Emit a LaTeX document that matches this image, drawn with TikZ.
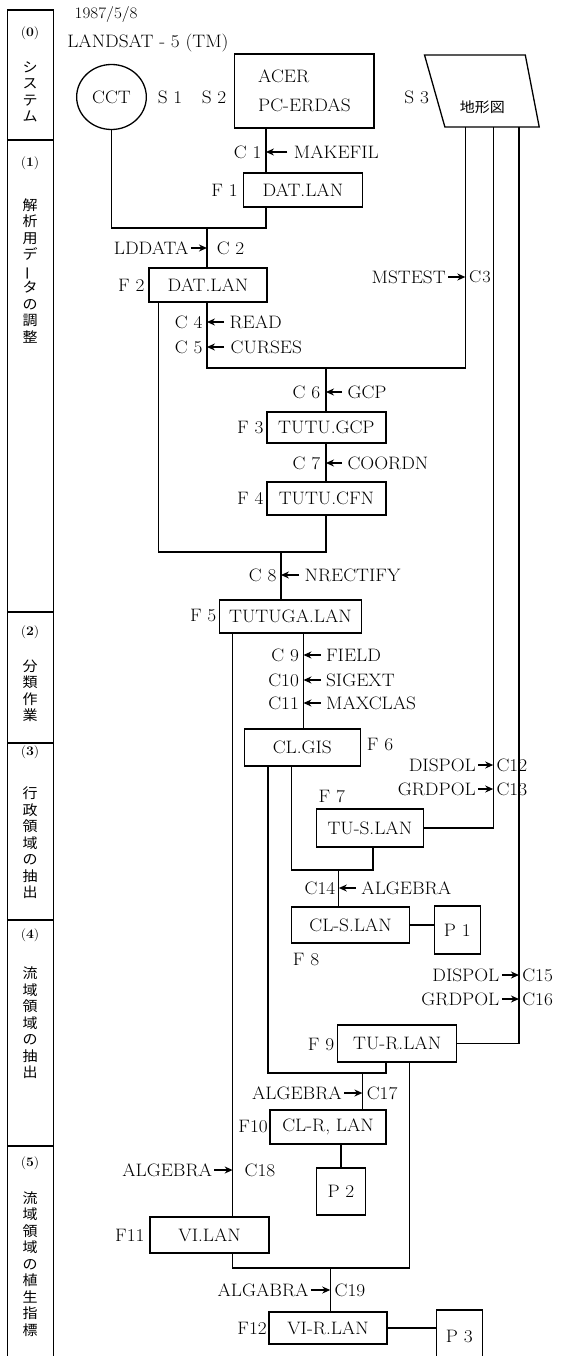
\documentclass[tikz,border=0pt]{standalone}
\usepackage{fontspec}
\newfontfamily\cjk{Noto Sans CJK JP}
\usetikzlibrary{arrows.meta}
\newcommand\mf{\fontsize{18}{21}\selectfont}
\newcommand\jf{\cjk\fontsize{14}{16.5}\selectfont}
\newcommand\vbar{\rotatebox[origin=c]{90}{ー}}
\tikzset{
  ln/.style={line width=1.3pt},
  box/.style={draw,line width=1.3pt,inner sep=0pt,font=\mf},
  lbl/.style={inner sep=0pt,font=\mf},
  arr/.style={line width=1.3pt,-{Stealth[length=8pt,width=7pt]}},
  vt/.style={inner sep=0pt,font=\jf,align=center},
  sec/.style={inner sep=0pt,font=\fontsize{13}{15}\selectfont},
}
\begin{document}
\begin{tikzpicture}[x=1pt,y=1pt,xscale=1.072,every node/.append style={transform shape}]
\useasboundingbox (0,0) rectangle (523.3,-1356);
% ---- left column ----
\draw[ln] (7,-1356) -- (7,-10) -- (50,-10) -- (50,-1356);
\foreach \y in {140,612,743,920,1146} \draw[ln] (7,-\y) -- (50,-\y);
\node[sec] (n0) at (28,-33) {(\textbf{0})};
\node[vt] (v0) at (28,-92) {シ\\ス\\テ\\ム};
\node[sec] (n1) at (28,-163) {(\textbf{1})};
\node[vt] (v1) at (28,-271) {解\\析\\用\\デ\\\vbar\\タ\\の\\調\\整};
\node[sec] (n2) at (28,-632) {(\textbf{2})};
\node[vt] (v2) at (28,-691) {分\\類\\作\\業};
\node[sec] (n3) at (28,-752) {(\textbf{3})};
\node[vt] (v3) at (28,-843) {行\\政\\領\\域\\の\\抽\\出};
\node[sec] (n4) at (28,-935) {(\textbf{4})};
\node[vt] (v4) at (28,-1023) {流\\域\\領\\域\\の\\抽\\出};
\node[sec] (n5) at (28,-1163) {(\textbf{5})};
\node[vt] (v5) at (28,-1264) {流\\域\\領\\域\\の\\植\\生\\指\\標};
% ---- lanes and levels ----
\coordinate (L148) at (148,0);
\coordinate (L193) at (193,0);
\coordinate (L217) at (217,0);
\coordinate (L248) at (248,0);
\coordinate (L250) at (250,0);
\coordinate (L262) at (262,0);
\coordinate (L272) at (272,0);
\coordinate (L283) at (283,0);
\coordinate (L304) at (304,0);
\coordinate (L308) at (308,0);
\coordinate (L316) at (316,0);
\coordinate (L338) at (338,0);
\coordinate (L348) at (348,0);
\coordinate (L360) at (360,0);
\coordinate (L382) at (382,0);
\coordinate (L434) at (434,0);
\coordinate (L460) at (460,0);
\coordinate (L484) at (484,0);
\coordinate (H228) at (0,-228);
\coordinate (H368) at (0,-368);
\coordinate (H552) at (0,-552);
\coordinate (H870) at (0,-870);
\coordinate (H1073) at (0,-1073);
\coordinate (H1268) at (0,-1268);
% ---- header ----
\node[lbl,font=\fontsize{16}{18}\selectfont] (date) at (99,-15) {1987/5/8};
\node[lbl] (sat) at (138,-43) {LANDSAT - 5 (TM)};
% ---- sources ----
\node[circle,draw,ln,minimum size=65pt,inner sep=0pt,font=\mf] (cct) at (104,-97) {CCT};
\node[lbl,anchor=west] (s1l) at (147,-97) {S 1};
\node[lbl,anchor=west] (s2l) at (188,-97) {S 2};
\node[box,minimum width=130pt,minimum height=74pt,align=left,font=\fontsize{18}{29}\selectfont] (s2) at (284,-91) {ACER\\PC-ERDAS};
\node[lbl,anchor=west] (s3l) at (377,-97) {S 3};
\draw[ln] (396,-55) -- (490,-55) -- (503,-127) -- (415,-127) -- cycle;
\node[lbl,font=\cjk\fontsize{14}{16}\selectfont] (s3) at (450,-107) {地形図};
\coordinate (s3a) at (434,-127);
\coordinate (s3b) at (460,-127);
\coordinate (s3c) at (484,-127);
% ---- files ----
\node[box,minimum width=111pt,minimum height=34pt] (f1) at (282.5,-190) {DAT.LAN};
\node[box,minimum width=110pt,minimum height=34pt] (f2) at (194,-285) {DAT.LAN};
\node[box,minimum width=111pt,minimum height=31pt] (f3) at (304.5,-427.5) {TUTU.GCP};
\node[box,minimum width=111pt,minimum height=33pt] (f4) at (304.5,-498.5) {TUTU.CFN};
\node[box,minimum width=132pt,minimum height=33pt] (f5) at (271,-616.5) {TUTUGA.LAN};
\node[box,minimum width=108pt,minimum height=37pt] (f6) at (282,-747.5) {CL.GIS};
\node[box,minimum width=100pt,minimum height=38pt] (f7) at (345,-828) {TU-S.LAN};
\node[box,minimum width=110pt,minimum height=36pt] (f8) at (327,-925) {CL-S.LAN};
\node[box,minimum width=43pt,minimum height=48pt] (p1) at (426.5,-930) {P 1};
\node[box,minimum width=111pt,minimum height=37pt] (f9) at (370.5,-1043.5) {TU-R.LAN};
\node[box,minimum width=108pt,minimum height=34pt] (f10) at (306,-1127) {CL-R, LAN};
\node[box,minimum width=46pt,minimum height=47pt] (p2) at (318,-1191.5) {P 2};
\node[box,minimum width=111pt,minimum height=36pt] (f11) at (195.5,-1235) {VI.LAN};
\node[box,minimum width=110pt,minimum height=32pt] (f12) at (306,-1328) {VI-R.LAN};
\node[box,minimum width=43pt,minimum height=60pt] (p3) at (428.5,-1340) {\raisebox{7pt}{P 3}};
% ---- file labels ----
\node[lbl,anchor=east] (fl1) at (222,-190) {F 1};
\node[lbl,anchor=east] (fl2) at (135,-285) {F 2};
\node[lbl,anchor=east] (fl3) at (246,-428) {F 3};
\node[lbl,anchor=east] (fl4) at (246,-498) {F 4};
\node[lbl,anchor=east] (fl5) at (202,-616) {F 5};
\node[lbl,anchor=west] (fl6) at (342,-745) {F 6};
\node[lbl,anchor=west] (fl7) at (297,-797) {F 7};
\node[lbl,anchor=west] (fl8) at (273,-960) {F 8};
\node[lbl,anchor=east] (fl9) at (312,-1045) {F 9};
\node[lbl,anchor=east] (fl10) at (250,-1127) {F10};
\node[lbl,anchor=east] (fl11) at (135,-1235) {F11};
\node[lbl,anchor=east] (fl12) at (249,-1328) {F12};
% ---- connectors ----
\draw[ln] (s2.south -| L248) -- (f1.north -| L248);
\draw[ln] (cct.south) -- (cct.south |- H228) -- (L248 |- H228) -- (f1.south -| L248);
\draw[ln] (L193 |- H228) -- (f2.north -| L193);
\draw[ln] (f2.south -| L193) -- (L193 |- H368) -- (L434 |- H368) -- (s3a);
\draw[ln] (L304 |- H368) -- (f3.north -| L304);
\draw[ln] (f3.south -| L304) -- (f4.north -| L304);
\draw[ln] (f2.south -| L148) -- (L148 |- H552) -- (L304 |- H552) -- (f4.south -| L304);
\draw[ln] (L262 |- H552) -- (f5.north -| L262);
\draw[ln] (f5.south -| L217) -- (f11.north -| L217);
\draw[ln] (f5.south -| L283) -- (f6.north -| L283);
\draw[ln] (f6.south -| L250) -- (L250 |- H1073) -- (L360 |- H1073) -- (f9.south -| L360);
\draw[ln] (f6.south -| L272) -- (L272 |- H870) -- (L348 |- H870) -- (f7.south -| L348);
\draw[ln] (L316 |- H870) -- (f8.north -| L316);
\draw[ln] (f7.east) -- (f7.east -| L460) -- (s3b);
\draw[ln] (f8.east) -- (f8.east -| p1.west);
\draw[ln] (f9.east) -- (f9.east -| L484) -- (s3c);
\draw[ln] (L338 |- H1073) -- (f10.north -| L338);
\draw[ln] (f10.south -| p2.north) -- (p2.north);
\draw[ln] (f9.south -| L382) -- (L382 |- H1268) -- (L217 |- H1268) -- (f11.south -| L217);
\draw[ln] (L308 |- H1268) -- (f12.north -| L308);
\draw[ln] (f12.east) -- (f12.east -| p3.west);
% ---- commands ----
\node[lbl,anchor=east] (c1) at (244,-152) {C 1};
\node[lbl,anchor=west] (a1) at (274,-152) {MAKEFIL};
\draw[arr] ([xshift=-6pt]a1.west) -- (a1.west -| L248);
\node[lbl,anchor=east] (c4) at (189,-322) {C 4};
\node[lbl,anchor=west] (a4) at (214,-322) {READ};
\draw[arr] ([xshift=-5pt]a4.west) -- (a4.west -| L193);
\node[lbl,anchor=east] (c5) at (189,-347) {C 5};
\node[lbl,anchor=west] (a5) at (215,-347) {CURSES};
\draw[arr] ([xshift=-6pt]a5.west) -- (a5.west -| L193);
\node[lbl,anchor=east] (c6) at (299,-392) {C 6};
\node[lbl,anchor=west] (a6) at (324,-392) {GCP};
\draw[arr] ([xshift=-5pt]a6.west) -- (a6.west -| L304);
\node[lbl,anchor=east] (c7) at (299,-463) {C 7};
\node[lbl,anchor=west] (a7) at (324,-463) {COORDN};
\draw[arr] ([xshift=-5pt]a7.west) -- (a7.west -| L304);
\node[lbl,anchor=east] (c8) at (258,-575) {C 8};
\node[lbl,anchor=west] (a8) at (284,-575) {NRECTIFY};
\draw[arr] ([xshift=-5pt]a8.west) -- (a8.west -| L262);
\node[lbl,anchor=east] (c9) at (279,-655) {C 9};
\node[lbl,anchor=west] (a9) at (304,-655) {FIELD};
\draw[arr] ([xshift=-5pt]a9.west) -- (a9.west -| L283);
\node[lbl,anchor=east] (c10) at (279,-680) {C10};
\node[lbl,anchor=west] (a10) at (304,-680) {SIGEXT};
\draw[arr] ([xshift=-5pt]a10.west) -- (a10.west -| L283);
\node[lbl,anchor=east] (c11) at (279,-703) {C11};
\node[lbl,anchor=west] (a11) at (304,-703) {MAXCLAS};
\draw[arr] ([xshift=-5pt]a11.west) -- (a11.west -| L283);
\node[lbl,anchor=east] (c14) at (313,-888) {C14};
\node[lbl,anchor=west] (a14) at (337,-888) {ALGEBRA};
\draw[arr] ([xshift=-5pt]a14.west) -- (a14.west -| L316);
\node[lbl,anchor=east] (a2) at (176,-248) {LDDATA};
\node[lbl,anchor=west] (c2) at (202,-248) {C 2};
\draw[arr] ([xshift=2pt]a2.east) -- (a2.east -| L193);
\node[lbl,anchor=east] (a3) at (416,-277) {MSTEST};
\node[lbl,anchor=west,font=\fontsize{17}{20}\selectfont] (c3) at (437.5,-277) {C\kern1pt3};
\draw[arr] ([xshift=2pt]a3.east) -- (a3.east -| L434);
\node[lbl,anchor=east] (a12) at (444,-765) {DISPOL};
\node[lbl,anchor=west] (c12) at (463,-765) {C12};
\draw[arr] ([xshift=2pt]a12.east) -- (a12.east -| L460);
\node[lbl,anchor=east] (a13) at (444,-789) {GRDPOL};
\node[lbl,anchor=west] (c13) at (463,-789) {C13};
\draw[arr] ([xshift=2pt]a13.east) -- (a13.east -| L460);
\node[lbl,anchor=east] (a15) at (466,-975) {DISPOL};
\node[lbl,anchor=west] (c15) at (487,-975) {C15};
\draw[arr] ([xshift=2pt]a15.east) -- (a15.east -| L484);
\node[lbl,anchor=east] (a16) at (466,-999) {GRDPOL};
\node[lbl,anchor=west] (c16) at (487,-999) {C16};
\draw[arr] ([xshift=2pt]a16.east) -- (a16.east -| L484);
\node[lbl,anchor=east] (a17) at (319,-1093) {ALGEBRA};
\node[lbl,anchor=west] (c17) at (342,-1093) {C17};
\draw[arr] ([xshift=2pt]a17.east) -- (a17.east -| L338);
\node[lbl,anchor=east] (a18) at (198,-1170) {ALGEBRA};
\node[lbl,anchor=west] (c18) at (228,-1170) {C18};
\draw[arr] ([xshift=2pt]a18.east) -- (a18.east -| L217);
\node[lbl,anchor=east] (a19) at (288,-1290) {ALGABRA};
\node[lbl,anchor=west] (c19) at (312,-1290) {C19};
\draw[arr] ([xshift=2pt]a19.east) -- (a19.east -| L308);
\end{tikzpicture}
\end{document}
